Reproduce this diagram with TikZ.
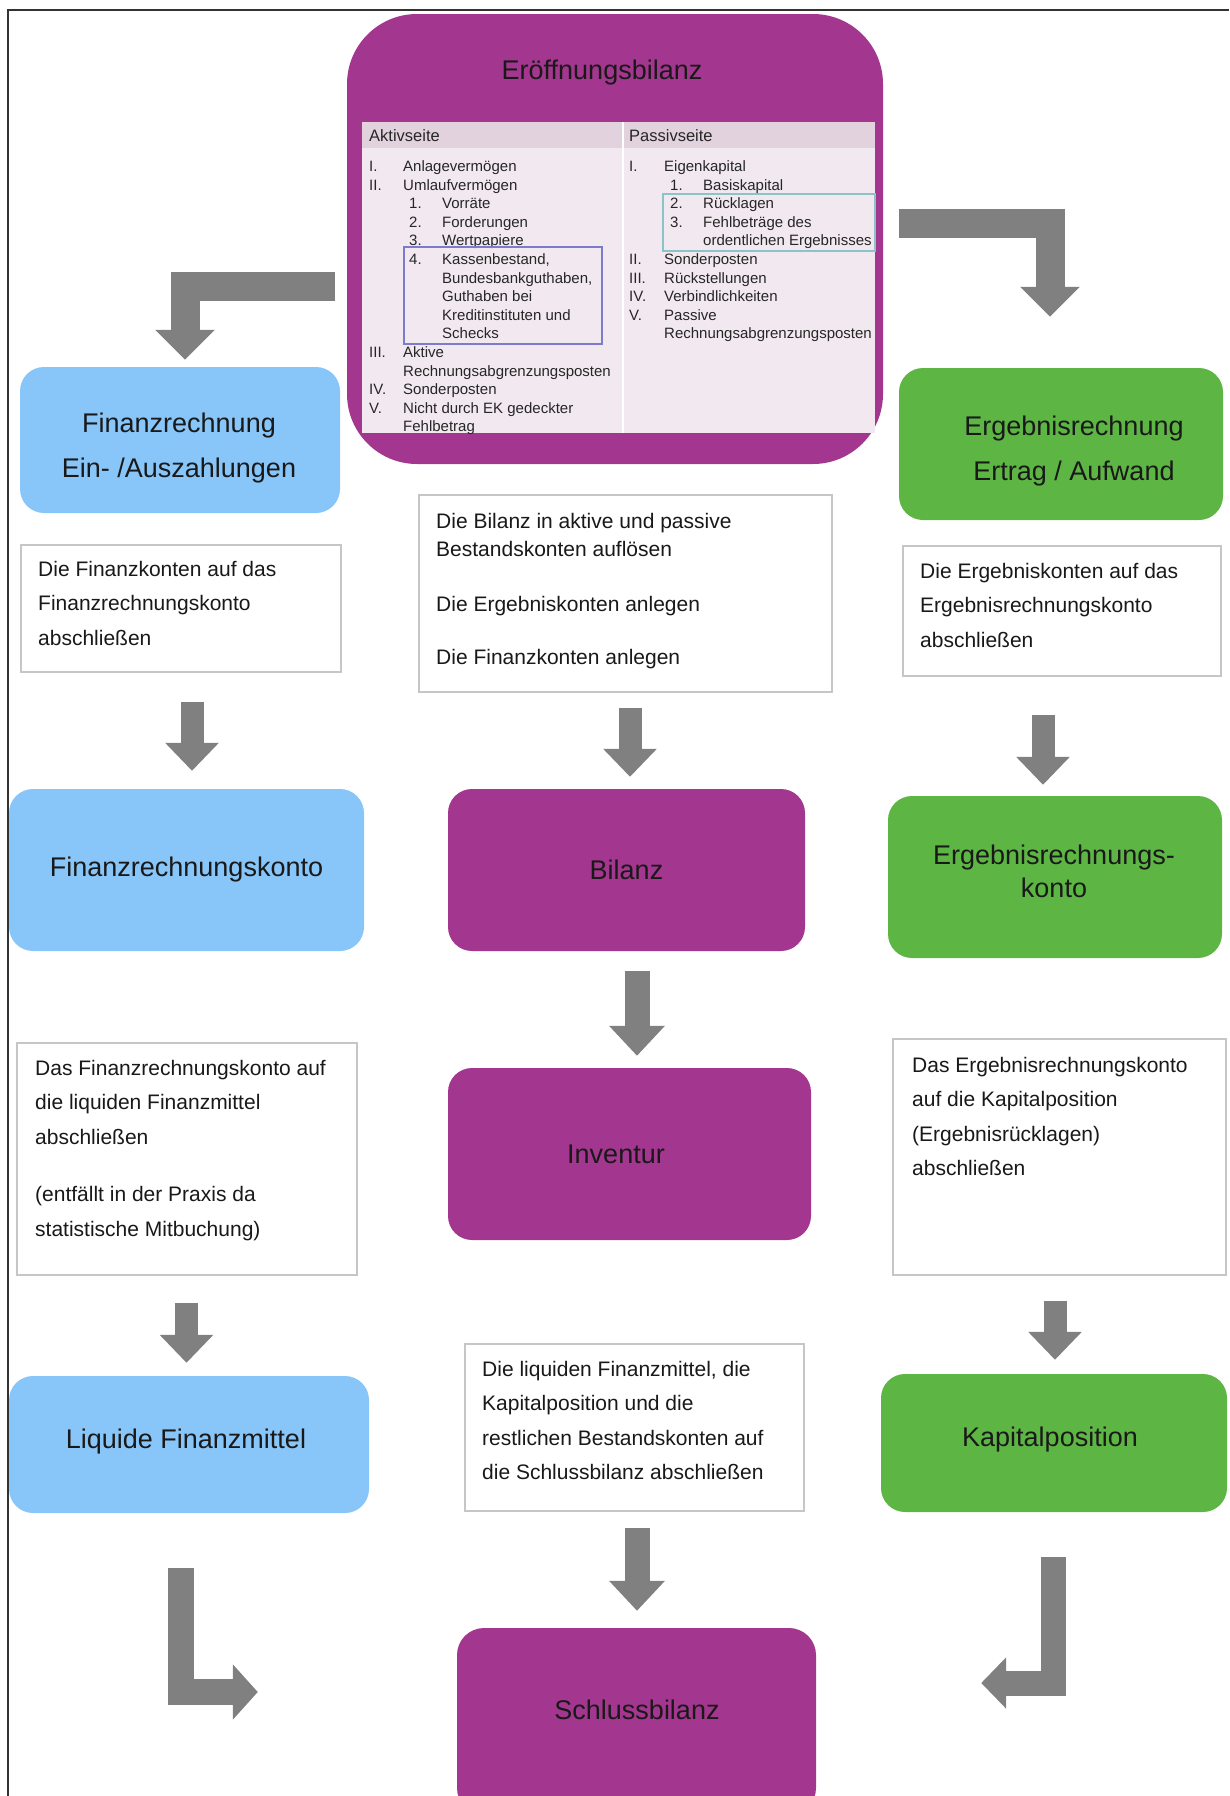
\documentclass[tikz,border=0pt]{standalone}
\usepackage{fontspec}
\setmainfont{Liberation Sans}
\usetikzlibrary{arrows.meta,calc}

\definecolor{lila}{HTML}{A3368E}
\definecolor{hblau}{HTML}{88C6FA}
\definecolor{gruen}{HTML}{5DB544}
\definecolor{pfeil}{HTML}{808080}
\definecolor{tabhell}{HTML}{F2E9F0}
\definecolor{tabkopf}{HTML}{E2D2DE}
\definecolor{rahmen}{HTML}{C6C6C6}
\definecolor{markblau}{HTML}{7C7CCB}
\definecolor{markteal}{HTML}{8CC3C8}

\tikzset{
  box/.style={rounded corners=24pt, inner sep=0pt, align=center,
    text=black!90, font=\fontsize{27}{33}\selectfont},
  titel/.style={inner sep=0pt, align=center, text=black!90,
    font=\fontsize{27}{45}\selectfont},
  textbox/.style={draw=rahmen, line width=1.5pt, fill=white, inner sep=0pt},
  txt/.style={anchor=north west, inner sep=0pt, align=left, text=black!90,
    font=\fontsize{21}{34.5}\selectfont},
  tab/.style={anchor=base west, inner sep=0pt, text=black!85,
    font=\fontsize{15}{18}\selectfont},
  blockarrow/.style={draw=pfeil, line width=23pt, line join=miter,
    -{Triangle[width=52pt,length=28pt]}},
  bigarrow/.style={blockarrow, line width=29pt,
    -{Triangle[width=58pt,length=30pt]}}
}

\begin{document}
\begin{tikzpicture}[x=1pt, y=-1pt]
  \useasboundingbox (0,0) rectangle (1229,1796);
  \clip (0,0) rectangle (1229,1796);
  \draw[line width=2pt, black!80] (7.5,1796) -- (7.5,10) -- (1229,10);

  % Eroeffnungsbilanz
  \node[box, fill=lila, rounded corners=70pt, minimum width=536pt, minimum height=450pt] (eb) at (615,239) {};
  \node[titel] (ebtitel) at (602,73) {Eröffnungsbilanz};
  \fill[tabhell] (362,122) rectangle (875,433);
  \fill[tabkopf] (362,122) rectangle (875,148);
  \draw[white, line width=1.5pt] (623,122) -- (623,433);
  \node[tab, font=\fontsize{16.5}{18}\selectfont] (aktiv) at (369,141) {Aktivseite};
  \node[tab, font=\fontsize{16.5}{18}\selectfont] (passiv) at (629,141) {Passivseite};
  \foreach \nr/\txt/\nx/\tx [count=\r from 0] in {
    I./Anlagevermögen/369/403, II./Umlaufvermögen/369/403,
    1./Vorräte/409/442, 2./Forderungen/409/442, 3./Wertpapiere/409/442,
    4./{Kassenbestand,}/409/442, {}/{Bundesbankguthaben,}/409/442,
    {}/Guthaben bei/409/442, {}/Kreditinstituten und/409/442, {}/Schecks/409/442,
    III./Aktive/369/403, {}/Rechnungsabgrenzungsposten/369/403,
    IV./Sonderposten/369/403, V./Nicht durch EK gedeckter/369/403,
    {}/Fehlbetrag/369/403}
  {
    \node[tab] (akn\r) at (\nx,{171.4+18.6*\r}) {\nr};
    \node[tab] (ak\r) at (\tx,{171.4+18.6*\r}) {\txt};
  }
  \foreach \nr/\txt/\nx/\tx [count=\r from 0] in {
    I./Eigenkapital/629/664, 1./Basiskapital/670/703, 2./Rücklagen/670/703,
    3./Fehlbeträge des/670/703, {}/ordentlichen Ergebnisses/670/703,
    II./Sonderposten/629/664, III./Rückstellungen/629/664,
    IV./Verbindlichkeiten/629/664, V./Passive/629/664,
    {}/Rechnungsabgrenzungsposten/629/664}
  {
    \node[tab] (pan\r) at (\nx,{171.4+18.6*\r}) {\nr};
    \node[tab] (pa\r) at (\tx,{171.4+18.6*\r}) {\txt};
  }
  \draw[markblau, line width=1.5pt] (404,247) rectangle (602,344);
  \draw[markteal, line width=1.5pt] (663,194) rectangle (875,251);

  % erste Reihe
  \node[box, fill=hblau, minimum width=320pt, minimum height=146pt] (fr) at (180,440) {};
  \node[titel] (frt) at (179,448) {Finanzrechnung\\Ein- /Auszahlungen};
  \node[box, fill=gruen, minimum width=324pt, minimum height=152pt] (er) at (1061,444) {};
  \node[titel] (ert) at (1074,451) {Ergebnisrechnung\\Ertrag / Aufwand};

  \node[textbox, minimum width=320pt, minimum height=127pt] (tfin) at (181,608.5) {};
  \node[txt] (tfint) at (38,561) {Die Finanzkonten auf das\\Finanzrechnungskonto\\abschließen};
  \node[textbox, minimum width=413pt, minimum height=197pt] (tmid) at (625.5,593.5) {};
  \node[txt, font=\fontsize{21}{28}\selectfont] (tmidt) at (436,513) {Die Bilanz in aktive und passive\\Bestandskonten auflösen\\[27.5pt]Die Ergebniskonten anlegen\\[25pt]Die Finanzkonten anlegen};
  \node[textbox, minimum width=318pt, minimum height=130pt] (terg) at (1062,611) {};
  \node[txt] (tergt) at (920,563) {Die Ergebniskonten auf das\\Ergebnisrechnungskonto\\abschließen};

  % Konten
  \node[box, fill=hblau, minimum width=355pt, minimum height=162pt] (fk) at (186.5,870) {Finanzrechnungskonto};
  \node[box, fill=lila, minimum width=357pt, minimum height=162pt] (bil) at (626.5,870) {Bilanz};
  \node[box, fill=gruen, minimum width=334pt, minimum height=162pt] (erk) at (1055,877) {};
  \node[titel, font=\fontsize{27}{33}\selectfont] (erkt) at (1054,871) {Ergebnisrechnungs-\\konto};
  \node[box, fill=lila, minimum width=363pt, minimum height=172pt] (inv) at (629.5,1154) {};
  \node[titel] (invt) at (616,1154) {Inventur};

  \node[textbox, minimum width=340pt, minimum height=232pt] (tfin2) at (187,1159) {};
  \node[txt, font=\fontsize{21}{34.4}\selectfont] (tfin2t) at (35,1060) {Das Finanzrechnungskonto auf\\die liquiden Finanzmittel\\abschließen\\[23pt](entfällt in der Praxis da\\statistische Mitbuchung)};
  \node[textbox, minimum width=333pt, minimum height=236pt] (terg2) at (1059.5,1157) {};
  \node[txt] (terg2t) at (912,1057) {Das Ergebnisrechnungskonto\\auf die Kapitalposition\\(Ergebnisrücklagen)\\abschließen};

  \node[box, fill=hblau, minimum width=360pt, minimum height=137pt] (lf) at (189,1444.5) {};
  \node[titel] (lft) at (186,1442) {Liquide Finanzmittel};
  \node[box, fill=gruen, minimum width=346pt, minimum height=138pt] (kp) at (1054,1443) {};
  \node[titel] (kpt) at (1050,1440) {Kapitalposition};
  \node[textbox, minimum width=339pt, minimum height=167pt] (tmid3) at (634.5,1427.5) {};
  \node[txt, font=\fontsize{21}{34.4}\selectfont] (tmid3t) at (482,1361) {Die liquiden Finanzmittel, die\\Kapitalposition und die\\restlichen Bestandskonten auf\\die Schlussbilanz abschließen};

  \node[box, fill=lila, rounded corners=27pt, minimum width=359pt, minimum height=187pt] (sb) at (636.5,1721.5) {};
  \node[titel] (sbt) at (637,1710) {Schlussbilanz};

  % Pfeile
  \draw[bigarrow] ($(eb.west)+(-12,47)$) -| ($(fr.north)+(5,-7)$);
  \draw[bigarrow] ($(eb.east)+(16,-16)$) -| ($(er.north)+(-11,-51)$);
  \draw[blockarrow] ($(tfin.south)+(11,29)$) -- ($(fk.north)+(5.5,-18)$);
  \draw[blockarrow] ($(tmid.south)+(4.5,15)$) -- ($(bil.north)+(3.5,-12)$);
  \draw[blockarrow] ($(terg.south)+(-19,38)$) -- ($(erk.north)+(-12,-11)$);
  \draw[blockarrow, line width=25pt, -{Triangle[width=54pt,length=30pt]}] ($(bil.south)+(10.5,20)$) -- ($(inv.north)+(7.5,-12)$);
  \draw[blockarrow] ($(tfin2.south)+(-0.5,27)$) -- ($(lf.north)+(-2.5,-13)$);
  \draw[blockarrow] ($(terg2.south)+(-4.5,25)$) -- ($(kp.north)+(1,-14)$);
  \draw[blockarrow, line width=25pt, -{Triangle[width=54pt,length=30pt]}] ($(tmid3.south)+(2.5,16)$) -- ($(sb.north)+(0.5,-17)$);
  \draw[blockarrow, line width=26pt, -{Triangle[width=54pt,length=25pt]}] ($(lf.south)+(-8,55)$) |- ($(sb.west)+(-199,-29.5)$);
  \draw[blockarrow, line width=25pt, -{Triangle[width=50pt,length=25pt]}] ($(kp.south)+(-0.5,45)$) |- ($(sb.east)+(165,-38.5)$);
\end{tikzpicture}
\end{document}
